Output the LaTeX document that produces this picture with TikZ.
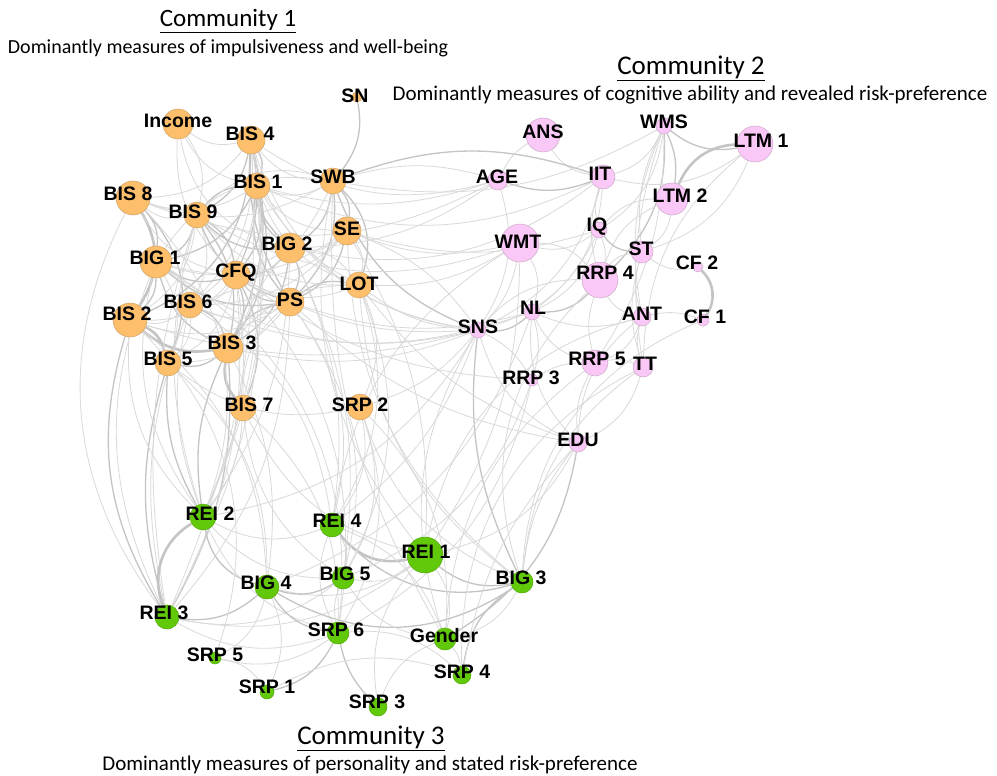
\documentclass[tikz,border=0pt]{standalone}
\usepackage{fontspec}
\setmainfont{Carlito}
\newfontfamily\lblfont{Liberation Sans}
\usetikzlibrary{backgrounds}
\definecolor{corange}{HTML}{FDBF6C}
\definecolor{cpink}{HTML}{F9C8F6}
\definecolor{cgreen}{HTML}{62C80A}
\definecolor{edgec}{HTML}{C4C4C4}
\tikzset{
  vo/.style={circle,fill=corange,draw=corange!80!black!90,line width=0.5pt,inner sep=0pt},
  vp/.style={circle,fill=cpink,draw=cpink!80!black!90,line width=0.5pt,inner sep=0pt},
  vg/.style={circle,fill=cgreen,draw=cgreen!85!black,line width=0.5pt,inner sep=0pt},
  lbl/.style={font=\lblfont\bfseries\fontsize{19.5}{20}\selectfont,inner sep=0pt,text=black},
  ea/.style={draw=edgec!65,line width=0.8pt},
  eb/.style={draw=edgec,line width=1.3pt},
  ec/.style={draw=edgec,line width=2.6pt},
  ttl/.style={inner sep=0pt},
  sub/.style={inner sep=0pt},
}
\begin{document}
\begin{tikzpicture}[x=1pt,y=-1pt]
\useasboundingbox (0,0) rectangle (997,776);
% vertices
\foreach \n/\x/\y/\r/\s in {
 sn/357/97/5/vo, inc/178/124/15/vo, bis4/251/140/14/vo, bis1/257/186/13/vo,
 swb/333/181/13/vo, bis8/133/198/17/vo, bis9/197/215/13/vo, se/347/231/14/vo,
 big2/290/248/15/vo, big1/156/262/16/vo, cfq/236/275/14/vo, lot/359/285/13/vo,
 ps/290/302/14/vo, bis6/190/305/13/vo, bis2/130/320/17/vo, bis3/228/348/15/vo,
 bis5/168/363/13/vo, bis7/243/408/13/vo, srp2/360/407/13/vo,
 ans/543/135/17/vp, wms/664/126/8/vp, ltm1/755/144/18/vp, age/498/180/10/vp,
 iit/603/177/12/vp, ltm2/672/199/16/vp, wmt/520/243/19/vp, iq/599/230/8/vp,
 st/642/252/11/vp, cf2/698/267/5/vp, rrp4/600/280/18/vp, nl/532/312/8/vp,
 ant/642/317/9/vp, cf1/703/320/6/vp, sns/478/330/8/vp, rrp5/595/363/13/vp,
 tt/643/367/10/vp, rrp3/532/380/6/vp, edu/578/443/9/vp,
 rei2/203/517/13/vg, rei4/332/525/12/vg, rei1/425/555/18/vg, big5/343/578/11/vg,
 big4/267/587/12/vg, big3/522/582/11/vg, rei3/167/617/12/vg, srp6/338/633/11/vg,
 gender/445/639/11/vg, srp5/215/658/6/vg, srp4/462/675/9/vg, srp1/267/692/7/vg,
 srp3/378/707/9/vg}
 {\node[\s,minimum size={2*\r*1pt}] (\n) at (\x,\y) {};}
% edges
\begin{pgfonlayer}{background}
\fill[white] (0,0) rectangle (997,776);
\foreach \a/\b/\s/\k in {
 bis4/bis1/eb/15, bis4/bis9/eb/15, bis4/big2/eb/-15, bis4/cfq/eb/10, bis4/bis3/eb/12,
 bis4/swb/ea/-15, bis4/bis8/ea/15, bis4/inc/ea/15, bis4/ps/eb/-10, bis4/bis6/ea/15,
 bis4/bis2/eb/20, bis4/lot/ea/-15, bis1/bis9/eb/-15, bis1/cfq/eb/15, bis1/big2/eb/-15,
 bis1/ps/eb/-15, bis1/bis3/eb/15, bis1/bis6/ea/15, bis1/big1/eb/15, bis1/swb/ea/-15,
 bis1/se/ea/-15, bis9/big1/eb/15, bis9/cfq/eb/15, bis9/bis6/ea/15, bis9/bis3/eb/15,
 bis9/big2/eb/-15, bis9/ps/eb/-15, bis9/bis2/ea/15, big1/bis2/eb/15, big1/cfq/eb/-15,
 big1/bis6/ea/15, big1/bis3/eb/-15, big1/ps/eb/-15, big1/bis5/ea/15, bis8/bis2/ec/20,
 bis8/big1/eb/15, bis8/bis9/ea/-15, bis8/bis5/eb/20, cfq/ps/eb/-15, cfq/bis3/eb/15,
 cfq/bis6/ea/15, cfq/big2/eb/-15, cfq/lot/ea/-15, cfq/bis7/eb/15, cfq/se/ea/-15,
 big2/se/ea/-15, big2/swb/eb/-15, big2/ps/eb/15, big2/lot/ea/15, big2/bis3/eb/15,
 swb/se/eb/15, swb/lot/eb/20, swb/ps/eb/15, swb/big1/ea/-20, swb/bis9/ea/-20,
 sn/swb/eb/15, se/lot/ea/15, se/ps/eb/15, lot/ps/eb/-15, lot/srp2/ea/15,
 lot/bis3/ea/-15, ps/bis3/eb/-15, ps/bis6/ea/15, bis6/bis2/ea/15, bis6/bis3/eb/15,
 bis6/bis5/ea/15, bis2/bis5/ec/15, bis2/bis3/ec/-15, bis3/bis7/ec/-15, bis3/bis5/eb/15,
 inc/bis9/ea/15, inc/big2/ea/-20, inc/cfq/ea/-15, inc/bis1/ea/-15,
 bis8/bis1/ea/-15, bis8/cfq/ea/-15, bis8/swb/ea/-15, bis2/cfq/ea/-15, bis2/ps/ea/-15,
 bis5/cfq/ea/-15, bis5/ps/ea/-15, bis7/ps/ea/15, bis7/big2/ea/15, bis9/lot/ea/-15,
 bis6/se/ea/-15, bis6/swb/ea/-15, big1/se/ea/-15, big1/big2/ea/-15, bis1/lot/ea/-15,
 rei3/bis8/ea/20, rei3/bis2/eb/15, rei3/big1/ea/15, rei3/bis5/eb/10, rei3/bis6/ea/10,
 rei3/bis9/ea/8, rei3/bis3/eb/-10, rei3/cfq/ea/-10, rei3/bis1/ea/-10, rei3/bis4/ea/-8,
 rei3/ps/ea/-12, rei2/bis2/ea/15, rei2/bis6/ea/10, rei2/bis3/eb/10, rei2/big1/ea/15,
 rei2/bis5/eb/10, rei2/cfq/ea/-10, rei2/bis7/ea/-10, rei2/bis9/ea/10, rei2/bis1/ea/-8,
 rei2/bis4/ea/-10, rei2/big2/ea/-10,
 rei3/rei2/ec/25, rei3/big4/eb/-15, rei3/big5/ea/-15, rei3/srp6/ea/-15, rei3/rei1/ea/-15,
 rei2/big4/eb/-20, rei2/srp6/ea/-15, rei2/rei4/ea/-15, rei2/big5/ea/-15,
 rei4/rei1/ec/-20, rei4/big3/eb/-20, rei4/big5/ea/15, rei4/gender/ea/15, rei4/srp6/ea/-15,
 rei1/big3/eb/-15, rei1/big5/ea/15, rei1/big4/ea/15, rei1/gender/ea/15, rei1/srp3/ea/-15,
 big4/big5/eb/-15, big4/srp6/eb/-15, big4/srp1/ea/15, big4/big3/eb/-20,
 big5/srp6/ea/-10, big5/gender/ea/-15, srp6/srp1/eb/15, srp6/srp3/eb/-10,
 srp6/srp4/ea/15, srp6/srp5/ea/15, srp5/srp1/ea/15, srp5/big4/ea/-15, srp1/srp4/ea/15,
 srp3/gender/ea/15, srp4/big3/eb/15, gender/big3/ea/-15, gender/edu/eb/-15,
 gender/srp4/ea/10, srp2/rei4/ea/15, srp2/big3/ea/-15, srp2/gender/ea/15,
 lot/rei4/ea/15, lot/big5/ea/15, ps/big5/ea/15, se/rei1/ea/10, big2/rei4/ea/10,
 bis7/big5/ea/-15, bis7/rei1/ea/-15, cfq/srp6/ea/15, bis3/big4/ea/10, swb/gender/ea/-10,
 bis5/srp2/ea/-15, bis7/srp6/ea/15, srp2/srp6/ea/15, srp2/big5/ea/15, bis2/big4/ea/15,
 bis5/big4/ea/15, big1/srp6/ea/20, bis6/rei4/ea/15, ps/rei4/ea/15, big2/big5/ea/10,
 swb/rei1/ea/-15, se/big3/ea/-15, lot/big3/ea/-15, bis8/rei2/ea/20, bis2/srp5/ea/20,
 sns/big3/eb/-10, sns/swb/eb/15, sns/bis4/ea/20, sns/bis1/ea/15, sns/cfq/ea/10,
 bis8/age/ea/-15, big1/sns/ea/-15, bis2/sns/ea/-10, bis9/wmt/ea/-15, bis6/nl/ea/-12,
 cfq/rrp3/ea/-10, ps/edu/ea/-10, lot/edu/ea/-10, big2/iit/ea/-15, bis1/iit/ea/-15,
 wms/ltm1/eb/-15, wms/ltm2/eb/10, wms/st/ea/-10, wms/iit/ea/15, wms/rrp4/eb/15,
 wms/ant/ea/-10, wms/tt/ea/-8, wms/iq/ea/15, wms/rrp5/ea/10, ltm1/ltm2/ec/-20,
 ltm1/iit/ea/15, ltm1/st/ea/15, ltm2/st/ea/15, ltm2/rrp4/ea/-15, ltm2/iq/ea/-15,
 ans/age/ea/-10, ans/iit/ea/-15, age/iit/eb/-12, age/sns/ea/15, age/swb/ea/-10,
 age/bis1/ea/10, age/bis4/ea/15, iit/iq/ea/-10, iit/rrp4/ea/-10, iit/swb/eb/-12,
 iit/nl/ea/15, iit/sns/ea/15, iq/st/eb/-15, iq/rrp4/ea/10, iq/nl/ea/15,
 iq/wmt/ea/15, iq/sns/ea/15, wmt/nl/ea/15, wmt/sns/ea/10, wmt/rrp4/ea/15,
 st/rrp4/ea/-15, st/ant/ea/-10, st/tt/ea/-10, cf2/cf1/ec/25, cf1/ant/ea/-10,
 cf2/st/ea/15, rrp4/nl/eb/15, rrp4/ant/ea/-15, rrp4/sns/ea/-15, rrp4/rrp5/ea/-10,
 nl/sns/eb/15, nl/rrp5/ea/-15, nl/ant/ea/-12, nl/edu/ea/-15, nl/rrp3/ea/10,
 ant/rrp5/ea/15, ant/tt/ea/-10, ant/edu/ea/-15, sns/rrp3/ea/10, sns/edu/ea/-15,
 sns/se/ea/-10, rrp5/edu/ea/-10, rrp5/tt/ea/10, rrp5/rrp3/ea/-10, tt/edu/ea/15,
 tt/big3/ea/-15, edu/big3/ea/-10, edu/rei1/ea/15, swb/wms/ea/-12, se/wmt/ea/-10,
 lot/sns/ea/-10, big2/age/ea/-10, sns/gender/ea/-15, wmt/rei4/ea/-15, sns/rei2/ea/15,
 cf1/big3/ea/-20, ltm1/tt/ea/-15, se/iq/ea/-10, ps/nl/ea/-10, srp2/sns/ea/-10,
 bis3/sns/ea/-10, lot/wmt/ea/-10, rrp3/big5/ea/15, edu/srp4/ea/-10,
 big3/rrp4/ea/20, gender/rrp5/ea/15, srp4/tt/ea/20, rei1/wmt/ea/-10, rei4/sns/ea/-10,
 big4/nl/ea/-15, srp6/rrp3/ea/-15, rei1/ant/ea/20}
 {\draw[\s] (\a) to[bend left={1.6*\k}] (\b);}
\end{pgfonlayer}
% labels
\foreach \n/\t/\x/\y in {
 sn/SN/355/96, inc/Income/178/121, bis4/BIS 4/250/134, bis1/BIS 1/258/182,
 swb/SWB/333/177, bis8/BIS 8/128/194, bis9/BIS 9/193/212, se/SE/347/229,
 big2/BIG 2/287/244, big1/BIG 1/155/258, cfq/CFQ/236/273, lot/LOT/359/284,
 ps/PS/290/300, bis6/BIS 6/188/302, bis2/BIS 2/127/314, bis3/BIS 3/232/343,
 bis5/BIS 5/168/359, bis7/BIS 7/249/405, srp2/SRP 2/360/405,
 ans/ANS/543/132, wms/WMS/664/122, ltm1/LTM 1/761/141, age/AGE/497/177,
 iit/IIT/600/174, ltm2/LTM 2/680/196, wmt/WMT/518/242, iq/IQ/597/227,
 st/ST/641/249, cf2/CF 2/697/263, rrp4/RRP 4/605/273, nl/NL/533/308,
 ant/ANT/642/314, cf1/CF 1/705/317, sns/SNS/478/327, rrp5/RRP 5/597/359,
 tt/TT/645/364, rrp3/RRP 3/531/378, edu/EDU/578/440,
 rei2/REI 2/210/514, rei4/REI 4/337/521, rei1/REI 1/426/552, big5/BIG 5/345/574,
 big4/BIG 4/266/583, big3/BIG 3/521/578, rei3/REI 3/164/613, srp6/SRP 6/336/630,
 gender/Gender/444/636, srp5/SRP 5/215/655, srp4/SRP 4/462/672, srp1/SRP 1/267/687,
 srp3/SRP 3/377/702}
 {\node[lbl] (\n-l) at (\x,\y) {\t};}
% titles
\node[ttl,font=\fontsize{25}{27}\selectfont] (t1) at (228,21) {\underline{Community 1}};
\node[sub,font=\fontsize{20}{22}\selectfont] (s1) at (228,48) {Dominantly measures of impulsiveness and well-being};
\node[ttl,font=\fontsize{27}{29}\selectfont] (t2) at (691,68) {\underline{Community 2}};
\node[sub,font=\fontsize{21}{23}\selectfont] (s2) at (690,95) {Dominantly measures of cognitive ability and revealed risk-preference};
\node[ttl,font=\fontsize{27}{29}\selectfont] (t3) at (371,738) {\underline{Community 3}};
\node[sub,font=\fontsize{21}{23}\selectfont] (s3) at (370,765) {Dominantly measures of personality and stated risk-preference};
\end{tikzpicture}
\end{document}
